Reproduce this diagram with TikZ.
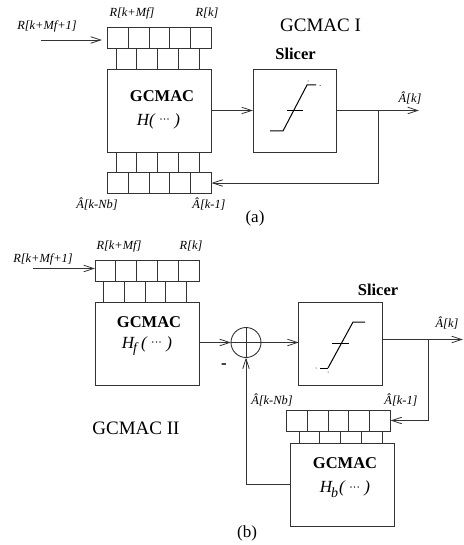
\documentclass[tikz,border=0pt]{standalone}
\usepackage{fontspec}
\setmainfont{Liberation Serif}
\usetikzlibrary{arrows.meta}
\tikzset{
  ln/.style={draw=black!80,line width=0.9pt},
  arr/.style={ln,-{Straight Barb[length=10pt,width=6.5pt,line width=0.8pt]}},
  cell/.style={ln,minimum width=20.8pt,minimum height=21pt,inner sep=0pt,outer sep=0pt},
  bigbox/.style={ln,minimum width=104pt,minimum height=83pt,inner sep=0pt,outer sep=0pt},
  slbox/.style={ln,minimum width=83.5pt,minimum height=83pt,inner sep=0pt,outer sep=0pt},
  sumc/.style={ln,circle,minimum size=30pt,inner sep=0pt,outer sep=0pt},
  sig/.style={inner sep=0pt,font=\fontsize{12.4}{12.4}\selectfont\itshape},
  head/.style={inner sep=0pt,font=\fontsize{16.5}{16.5}\selectfont\bfseries},
  func/.style={inner sep=0pt,font=\fontsize{17}{17}\selectfont\itshape},
  ttl/.style={inner sep=0pt,font=\fontsize{19}{19}\selectfont},
  curve/.style={draw=black,line width=1pt},
  dotm/.style={fill=black,circle,inner sep=0pt,minimum size=1pt}
}
\newcommand{\hatA}{\^{A}}
\newcommand{\tinydots}{\raisebox{1.5pt}{\fontsize{12}{12}\selectfont\upshape\textperiodcentered\kern-0.4pt\textperiodcentered\kern-0.4pt\textperiodcentered}}
\newcommand{\subf}[1]{\raisebox{-4.5pt}{\fontsize{14}{14}\selectfont #1}}
\begin{document}
\begin{tikzpicture}[x=1pt,y=-1pt]
\useasboundingbox (0,0) rectangle (463,545);
% ---------- (a)
\node[bigbox] (G1) at (159.5,110.5) {};
\node[slbox] (S1) at (294.7,110.5) {};
\foreach \i in {1,...,5} {
  \node[cell] (ra\i) at ({107.5+20.8*(\i-0.5)},37.5) {};
  \node[cell] (rb\i) at ({107.5+20.8*(\i-0.5)},183) {};
  \draw[ln] ([xshift=8.5pt]ra\i.south west) -- ([xshift=8.5pt]ra\i.south west |- G1.north);
  \draw[ln] ([xshift=8.5pt]rb\i.north west) -- ([xshift=8.5pt]rb\i.north west |- G1.south);
}
\coordinate (ina) at (41,40);
\coordinate (inaend) at (102,40);
\draw[arr] (ina) -- (inaend);
\coordinate (outa) at (419,110.5);
\coordinate (brancha) at (378,110.5);
\draw[arr] (G1.east) -- (S1.west);
\draw[arr] (S1.east) -- (outa);
\draw[arr] (brancha) |- (rb5.east);
\node[sig] (l1) at (47,26) {R[k+Mf+1]};
\node[sig] (l2) at (132,13) {R[k+Mf]};
\node[sig] (l3) at (207,13) {R[k]};
\node[sig] (l4) at (97,204) {\hatA[k-Nb]};
\node[sig] (l5) at (209,204) {\hatA[k-1]};
\node[sig] (l6) at (410,98) {\hatA[k]};
\node[head] (g1) at (162,96) {GCMAC};
\node[func] (h1) at (158.5,121) {H( \tinydots\ )};
\node[head] (s1) at (295.5,54) {Slicer};
\node[ttl] (t1) at (320.5,25) {GCMAC I};
\node[ttl,font=\fontsize{17}{17}\selectfont] (a) at (255,218) {(a)};
\draw[curve] (270,131) -- (283,131) -- (307,85) -- (316,85);
\draw[curve] (287,110.5) -- (303,110.5);
\node[dotm] (d1) at (308,81) {};
\node[dotm] (d2) at (320,85.5) {};
% ---------- (b)
\node[bigbox] (G2) at (147,343.5) {};
\node[slbox] (S2) at (340.5,343.5) {};
\node[bigbox] (G3) at (342.5,484.5) {};
\node[sumc] (add) at (246,342.5) {};
\draw[ln] (add.west) -- (add.east);
\draw[ln] (add.north) -- (add.south);
\foreach \i in {1,...,5} {
  \node[cell] (rc\i) at ({95+20.8*(\i-0.5)},270.5) {};
  \node[cell] (rd\i) at ({286.5+20.8*(\i-0.5)},420.5) {};
  \draw[ln] ([xshift=8.5pt]rc\i.south west) -- ([xshift=8.5pt]rc\i.south west |- G2.north);
  \draw[ln] ([xshift=12.5pt]rd\i.south west) -- ([xshift=12.5pt]rd\i.south west |- G3.north);
}
\coordinate (inb) at (33,268.5);
\draw[arr] (inb) -- (inb -| rc1.west);
\coordinate (outb) at (463,339.5);
\coordinate (branchb) at (428,339.5);
\draw[arr] (G2.east |- add.west) -- (add.west);
\draw[arr] (add.east) -- (S2.west |- add.east);
\draw[arr] (S2.east |- outb) -- (outb);
\draw[arr] (branchb) |- (rd5.east);
\draw[arr] (G3.west) -| (add.south);
\node[sig] (m1) at (43,259) {R[k+Mf+1]};
\node[sig] (m2) at (119,246) {R[k+Mf]};
\node[sig] (m3) at (191,246) {R[k]};
\node[sig] (m4) at (272,400) {\hatA[k-Nb]};
\node[sig] (m5) at (401,400) {\hatA[k-1]};
\node[sig] (m6) at (447,323) {\hatA[k]};
\node[head] (g2) at (149,322) {GCMAC};
\node[func] (h2) at (147,346) {H\kern-1pt\subf{f}\kern4pt( \tinydots\ )};
\node[head] (g3) at (345,463) {GCMAC};
\node[func] (h3) at (345,489) {H\kern-1pt\subf{b}\kern1pt( \tinydots\ )};
\node[head] (s2) at (378,290) {Slicer};
\node[ttl] (t2) at (136,428) {GCMAC II};
\node[ttl,font=\fontsize{17}{17}\selectfont] (b) at (247,533) {(b)};
\node[inner sep=0pt,font=\fontsize{17}{17}\selectfont\bfseries] (minus) at (224,366) {-};
\draw[curve] (328,368) -- (353,322) -- (365,322);
\draw[curve] (320,368) -- (328,368);
\draw[curve] (332,343) -- (349,343);
\node[dotm] (d3) at (316,368) {};
\node[dotm] (d4) at (328,372) {};
\end{tikzpicture}
\end{document}
